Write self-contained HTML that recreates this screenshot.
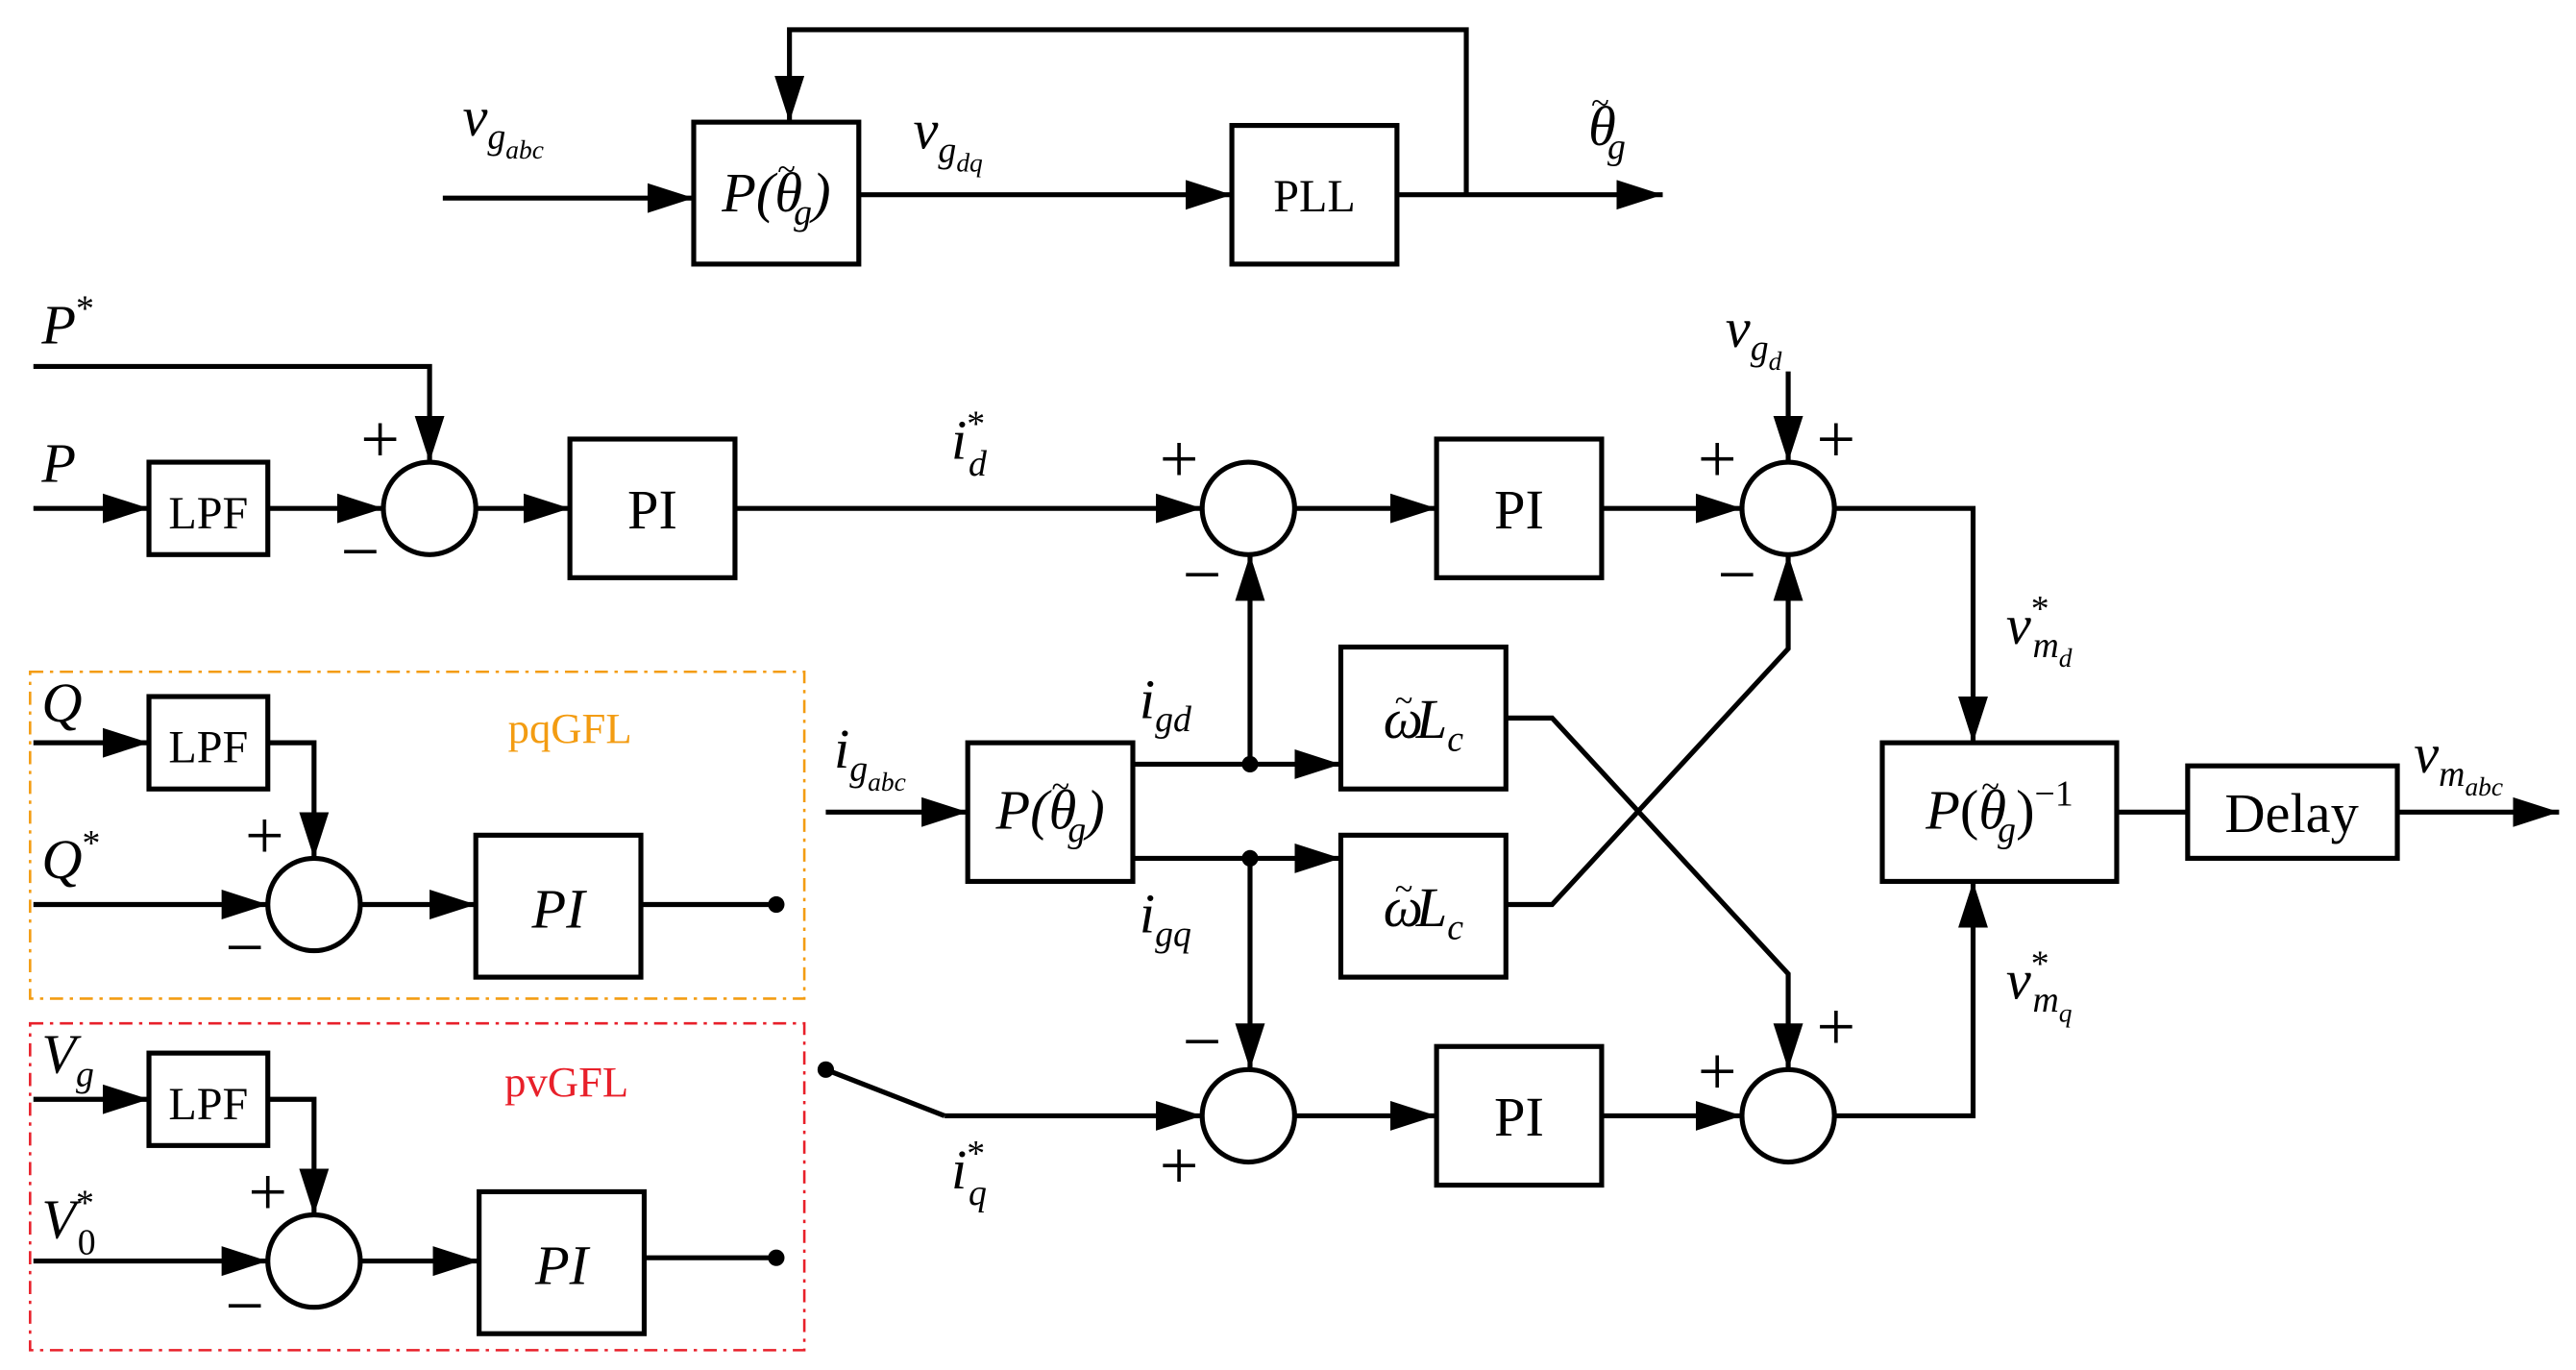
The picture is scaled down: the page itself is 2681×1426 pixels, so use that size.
<!DOCTYPE html>
<html><head><meta charset="utf-8"><style>
html,body{margin:0;padding:0;background:#fff;}
svg{display:block;}
text{font-family:"Liberation Serif",serif;fill:#000;}
.i{font-style:italic;}
</style></head><body>
<svg width="2681" height="1426" viewBox="0 0 1560 830" xmlns="http://www.w3.org/2000/svg">
<defs>
<marker id="a" markerUnits="userSpaceOnUse" markerWidth="30" markerHeight="20" refX="28" refY="9" orient="auto">
<path d="M0,0 L28,9 L0,18 Z" fill="#000"/></marker>
</defs>
<g stroke="#000" stroke-width="3" fill="none">
<line x1="268" y1="120" x2="420" y2="120" marker-end="url(#a)"/>
<rect x="420" y="74" width="100" height="86"/>
<line x1="520" y1="118" x2="746" y2="118" marker-end="url(#a)"/>
<rect x="746" y="76" width="100" height="84"/>
<line x1="846" y1="118" x2="1007" y2="118" marker-end="url(#a)"/>
<polyline points="888,118 888,18 478,18 478,74" marker-end="url(#a)"/>
<polyline points="20,222 260,222 260,280" marker-end="url(#a)"/>
<line x1="20" y1="308" x2="90" y2="308" marker-end="url(#a)"/>
<rect x="90" y="280" width="72" height="56"/>
<line x1="162" y1="308" x2="232" y2="308" marker-end="url(#a)"/>
<circle cx="260" cy="308" r="28"/>
<line x1="288" y1="308" x2="345" y2="308" marker-end="url(#a)"/>
<rect x="345" y="266" width="100" height="84"/>
<line x1="445" y1="308" x2="728" y2="308" marker-end="url(#a)"/>
<circle cx="756" cy="308" r="28"/>
<line x1="784" y1="308" x2="870" y2="308" marker-end="url(#a)"/>
<rect x="870" y="266" width="100" height="84"/>
<line x1="970" y1="308" x2="1055" y2="308" marker-end="url(#a)"/>
<circle cx="1083" cy="308" r="28"/>
<line x1="1083" y1="225" x2="1083" y2="280" marker-end="url(#a)"/>
<polyline points="1111,308 1195,308 1195,450" marker-end="url(#a)"/>
<rect x="1140" y="450" width="142" height="84"/>
<line x1="1282" y1="492" x2="1325" y2="492"/>
<rect x="1325" y="464" width="127" height="56"/>
<line x1="1452" y1="492" x2="1550" y2="492" marker-end="url(#a)"/>
<line x1="500" y1="492" x2="586" y2="492" marker-end="url(#a)"/>
<rect x="586" y="450" width="100" height="84"/>
<line x1="686" y1="463" x2="812" y2="463" marker-end="url(#a)"/>
<line x1="686" y1="520" x2="812" y2="520" marker-end="url(#a)"/>
<line x1="757" y1="463" x2="757" y2="336" marker-end="url(#a)"/>
<line x1="757" y1="520" x2="757" y2="648" marker-end="url(#a)"/>
<rect x="812" y="392" width="100" height="86"/>
<rect x="812" y="506" width="100" height="86"/>
<polyline points="912,435 940,435 1083,590 1083,648" marker-end="url(#a)"/>
<polyline points="912,548 940,548 1083,393 1083,336" marker-end="url(#a)"/>
<line x1="500" y1="648" x2="572" y2="676"/>
<line x1="572" y1="676" x2="728" y2="676" marker-end="url(#a)"/>
<circle cx="756" cy="676" r="28"/>
<line x1="784" y1="676" x2="870" y2="676" marker-end="url(#a)"/>
<rect x="870" y="634" width="100" height="84"/>
<line x1="970" y1="676" x2="1055" y2="676" marker-end="url(#a)"/>
<circle cx="1083" cy="676" r="28"/>
<polyline points="1111,676 1195,676 1195,534" marker-end="url(#a)"/>
<line x1="20" y1="450" x2="90" y2="450" marker-end="url(#a)"/>
<rect x="90" y="422" width="72" height="56"/>
<polyline points="162,450 190,450 190,520" marker-end="url(#a)"/>
<line x1="20" y1="548" x2="162" y2="548" marker-end="url(#a)"/>
<circle cx="190" cy="548" r="28"/>
<line x1="218" y1="548" x2="288" y2="548" marker-end="url(#a)"/>
<rect x="288" y="506" width="100" height="86"/>
<line x1="388" y1="548" x2="470" y2="548"/>
<line x1="20" y1="666" x2="90" y2="666" marker-end="url(#a)"/>
<rect x="90" y="638" width="72" height="56"/>
<polyline points="162,666 190,666 190,736" marker-end="url(#a)"/>
<line x1="20" y1="764" x2="162" y2="764" marker-end="url(#a)"/>
<circle cx="190" cy="764" r="28"/>
<line x1="218" y1="764" x2="290" y2="764" marker-end="url(#a)"/>
<rect x="290" y="722" width="100" height="86"/>
<line x1="390" y1="762" x2="470" y2="762"/>
</g>
<rect x="18" y="407" width="469" height="198" fill="none" stroke="#f39c12" stroke-width="1.5" stroke-dasharray="8,4,2,4"/>
<rect x="18" y="620" width="469" height="198" fill="none" stroke="#e8202a" stroke-width="1.5" stroke-dasharray="8,4,2,4"/>
<g fill="#000">
<circle cx="757" cy="463" r="5"/><circle cx="757" cy="520" r="5"/>
<circle cx="500" cy="648" r="5"/><circle cx="470" cy="548" r="5"/><circle cx="470" cy="762" r="5"/>
</g>
<g font-size="34" text-anchor="middle">
<text x="470" y="128" class="i">P(θ<tspan font-size="20" dx="-15" dy="-19" font-style="normal">~</tspan><tspan font-size="22" dx="-1" dy="27">g</tspan><tspan dy="-8">)</tspan></text>
<text x="796" y="128" font-size="28">PLL</text>
<text x="126" y="320" font-size="28">LPF</text>
<text x="395" y="320">PI</text>
<text x="920" y="320">PI</text>
<text x="920" y="688">PI</text>
<text x="636" y="502" class="i">P(θ<tspan font-size="20" dx="-15" dy="-19" font-style="normal">~</tspan><tspan font-size="22" dx="-1" dy="27">g</tspan><tspan dy="-8">)</tspan></text>
<text x="862" y="447" class="i">ω<tspan font-size="20" dx="-17" dy="-16" font-style="normal">~</tspan><tspan dx="2" dy="16">L</tspan><tspan font-size="22" dy="8">c</tspan></text>
<text x="862" y="561" class="i">ω<tspan font-size="20" dx="-17" dy="-16" font-style="normal">~</tspan><tspan dx="2" dy="16">L</tspan><tspan font-size="22" dy="8">c</tspan></text>
<text x="1211" y="502"><tspan class="i">P</tspan>(<tspan class="i">θ</tspan><tspan font-size="20" dx="-15" dy="-19">~</tspan><tspan font-size="22" dx="-1" dy="27" class="i">g</tspan><tspan dy="-8">)</tspan><tspan font-size="22" dy="-14">−1</tspan></text>
<text x="1388" y="504">Delay</text>
<text x="126" y="462" font-size="28">LPF</text>
<text x="338" y="562" class="i">PI</text>
<text x="126" y="678" font-size="28">LPF</text>
<text x="340" y="778" class="i">PI</text>
</g>
<g font-size="34" class="i">
<text x="280" y="82">v<tspan font-size="22" dy="8">g</tspan><tspan font-size="16" dy="6">abc</tspan></text>
<text x="553" y="90">v<tspan font-size="22" dy="8">g</tspan><tspan font-size="16" dy="6">dq</tspan></text>
<text x="962" y="88">θ<tspan font-size="20" dx="-15" dy="-19" font-style="normal">~</tspan><tspan font-size="22" dx="-1" dy="27">g</tspan></text>
<text x="25" y="208">P<tspan font-size="22" dy="-14" font-style="normal">*</tspan></text>
<text x="25" y="292">P</text>
<text x="576" y="278">i<tspan font-size="22" dy="-14" font-style="normal">*</tspan><tspan font-size="22" dx="-10" dy="24">d</tspan></text>
<text x="1045" y="210">v<tspan font-size="22" dy="8">g</tspan><tspan font-size="16" dy="6">d</tspan></text>
<text x="1215" y="390">v<tspan font-size="22" dy="-14" font-style="normal">*</tspan><tspan font-size="22" dx="-10" dy="22">m</tspan><tspan font-size="16" dy="6">d</tspan></text>
<text x="1215" y="605">v<tspan font-size="22" dy="-14" font-style="normal">*</tspan><tspan font-size="22" dx="-10" dy="22">m</tspan><tspan font-size="16" dy="6">q</tspan></text>
<text x="1462" y="468">v<tspan font-size="22" dy="8">m</tspan><tspan font-size="16" dy="6">abc</tspan></text>
<text x="505" y="465">i<tspan font-size="22" dy="8">g</tspan><tspan font-size="16" dy="6">abc</tspan></text>
<text x="690" y="435">i<tspan font-size="22" dy="8">gd</tspan></text>
<text x="690" y="565">i<tspan font-size="22" dy="8">gq</tspan></text>
<text x="576" y="720">i<tspan font-size="22" dy="-14" font-style="normal">*</tspan><tspan font-size="22" dx="-10" dy="24">q</tspan></text>
<text x="25" y="437">Q</text>
<text x="25" y="532">Q<tspan font-size="22" dy="-14" font-style="normal">*</tspan></text>
<text x="25" y="650">V<tspan font-size="22" dy="8">g</tspan></text>
<text x="25" y="750">V<tspan font-size="22" dy="-14" font-style="normal">*</tspan><tspan font-size="22" dx="-10" dy="24" font-style="normal">0</tspan></text>
</g>
<g font-size="42" font-family="DejaVu Sans" text-anchor="middle">
<text x="230" y="280">+</text><text x="218" y="348">−</text>
<text x="714" y="292">+</text><text x="728" y="362">−</text>
<text x="1040" y="292">+</text><text x="1112" y="280">+</text><text x="1052" y="362">−</text>
<text x="728" y="645">−</text><text x="714" y="720">+</text>
<text x="1040" y="663">+</text><text x="1112" y="636">+</text>
<text x="160" y="520">+</text><text x="148" y="588">−</text>
<text x="162" y="736">+</text><text x="148" y="805">−</text>
</g>
<text x="345" y="450" font-size="26" text-anchor="middle" style="fill:#f39c12">pqGFL</text>
<text x="343" y="664" font-size="26" text-anchor="middle" style="fill:#e8202a">pvGFL</text>
</svg>
</body></html>
